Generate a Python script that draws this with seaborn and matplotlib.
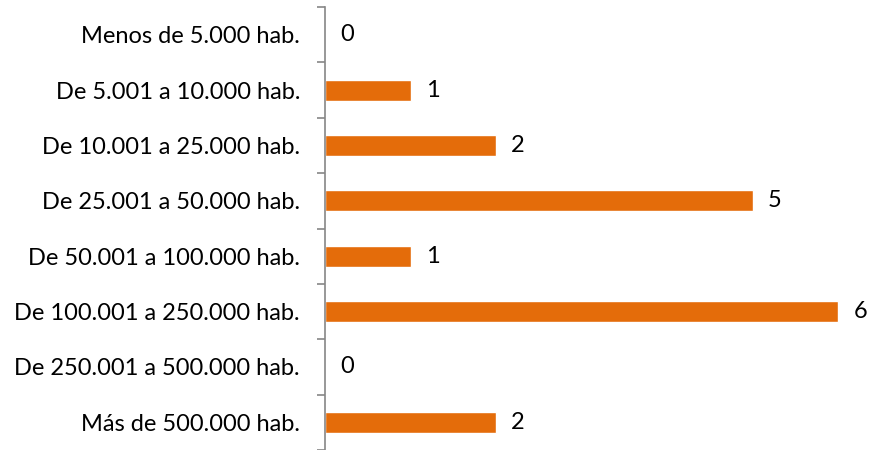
import matplotlib
matplotlib.use("Agg")
import matplotlib.pyplot as plt
import seaborn as sns
import pandas as pd
import numpy as np

categorias = [
    "Menos de 5.000 hab.",
    "De 5.001 a 10.000 hab.",
    "De 10.001 a 25.000 hab.",
    "De 25.001 a 50.000 hab.",
    "De 50.001 a 100.000 hab.",
    "De 100.001 a 250.000 hab.",
    "De 250.001 a 500.000 hab.",
    "Más de 500.000 hab.",
]
valores = [0, 1, 2, 5, 1, 6, 0, 2]

df = pd.DataFrame({"tramo": categorias, "n": valores})

sns.set_style("white")
plt.rcParams["font.family"] = ["Lato", "DejaVu Sans"]

fig = plt.figure(figsize=(8.71, 4.5), dpi=100)
ax = fig.add_axes([325 / 871, 0.0, (862 - 325) / 871, 1 - 7 / 450])

sns.barplot(data=df, x="n", y="tramo", orient="h", color="#E46C0A",
            width=0.38, saturation=1, ax=ax)

ax.set_xlim(0, 6.28)
ax.set_ylim(len(categorias) - 0.5, -0.5)
ax.set_xlabel("")
ax.set_ylabel("")
ax.set_xticks([])

for s in ["top", "right", "bottom"]:
    ax.spines[s].set_visible(False)
ax.spines["left"].set_color("#868686")
ax.spines["left"].set_linewidth(1.2)

ax.tick_params(axis="y", which="major", left=True, length=0, pad=18,
               labelsize=17, labelcolor="#000000")
ax.set_yticks(np.arange(len(categorias) + 1) - 0.5, minor=True)
ax.tick_params(axis="y", which="minor", left=True, length=6, width=1.2,
               color="#868686")

ax.bar_label(ax.containers[0], labels=[str(v) for v in valores],
             padding=11, fontsize=17, color="#000000")

fig.savefig("out.png", dpi=100)
